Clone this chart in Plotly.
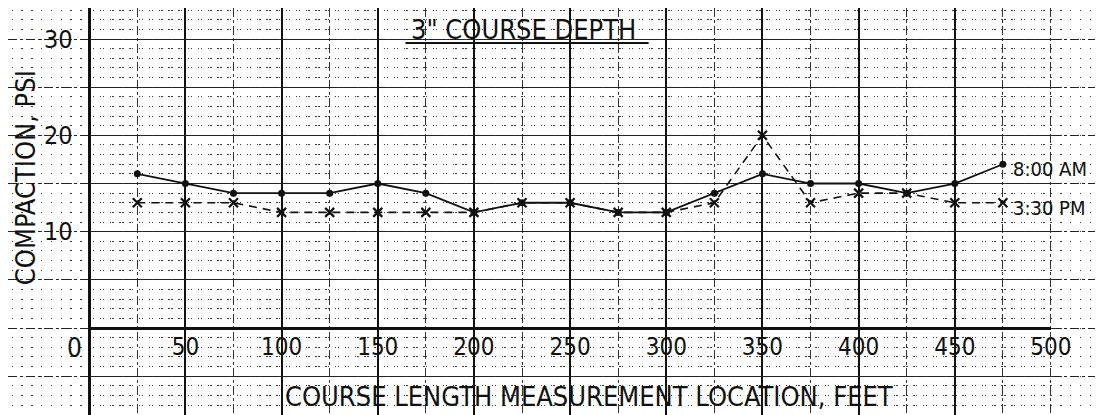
import plotly.graph_objects as go

# ---- data ----
locations = [25, 50, 75, 100, 125, 150, 175, 200, 225, 250, 275, 300, 325, 350, 375, 400, 425, 450, 475]
am_800 = [16, 15, 14, 14, 14, 15, 14, 12, 13, 13, 12, 12, 14, 16, 15, 15, 14, 15, 17]
pm_330 = [13, 13, 13, 12, 12, 12, 12, 12, 13, 13, 12, 12, 13, 20, 13, 14, 14, 13, 13]

x_tick_vals = [50, 100, 150, 200, 250, 300, 350, 400, 450, 500]
x_tick_text = ["50", "100", "150", "200", "250", "300", "350", "400", "450", "500"]
y_grid_vals = [-5, 0, 5, 10, 15, 20, 25, 30]
y_tick_text = ["", "", "", "10", "", "20", "", "30"]
x_grid_vals = [-25, 0, 25, 50, 75, 100, 125, 150, 175, 200, 225, 250, 275, 300,
               325, 350, 375, 400, 425, 450, 475, 500, 525]

title_text = '3" COURSE DEPTH'
x_title = "COURSE LENGTH MEASUREMENT LOCATION, FEET"
y_title = "COMPACTION, PSI"
series_names = ["8:00 AM", "3:30 PM"]

# ---- layout geometry ----
# the page keeps an 8px body margin and the photo is squeezed horizontally
OFF = 8
SX = 1103 / 1125
W, H = 1125 - OFF, 415 - OFF
PX_X = 1.922 / SX   # px per foot (in figure pixels)
PX_Y = 9.633        # px per psi
X0_PX, Y0_PX = 89 / SX - OFF, 328 - OFF
X_RANGE = [-X0_PX / PX_X, (W - X0_PX) / PX_X]
Y_RANGE = [-(H - Y0_PX) / PX_Y, Y0_PX / PX_Y]
FONT = "DejaVu Sans Condensed, Liberation Sans Narrow, DejaVu Sans, sans-serif"
INK = "#111111"
# dotted rows: one dot every 5 ft, aligned with the 5 ft columns
step_x = 5 * PX_X
phase = X0_PX % step_x
ROW_DOTS = f"0px,{phase - 0.7:.2f}px,1.4px,{step_x - phase - 0.7:.2f}px"


def px(x):
    return (x / SX - OFF) / W


def py(y):
    return 1 - (y - OFF) / H


ax_x0 = (0 - X_RANGE[0]) / (X_RANGE[1] - X_RANGE[0])
ax_x500 = (500 - X_RANGE[0]) / (X_RANGE[1] - X_RANGE[0])
ax_y0 = (0 - Y_RANGE[0]) / (Y_RANGE[1] - Y_RANGE[0])

fig = go.Figure()
# empty trace to keep the background graph-paper subplot alive
fig.add_trace(go.Scatter(x=[None], y=[None], xaxis="x", yaxis="y", mode="lines",
                         hoverinfo="skip", showlegend=False))
fig.add_trace(go.Scatter(
    x=locations, y=am_800, name=series_names[0], xaxis="x3", yaxis="y",
    mode="lines+markers", line=dict(color=INK, width=1.8),
    marker=dict(symbol="circle", size=7, color=INK), hoverinfo="x+y"))
fig.add_trace(go.Scatter(
    x=locations, y=pm_330, name=series_names[1], xaxis="x3", yaxis="y",
    mode="lines+markers", line=dict(color=INK, width=1.6, dash="8px,6px"),
    marker=dict(symbol="x-thin", size=9, color=INK, line=dict(width=2.2, color=INK)),
    hoverinfo="x+y"))

fig.update_layout(
    width=W, height=H, margin=dict(l=0, r=0, t=0, b=0), autosize=False,
    paper_bgcolor="white", plot_bgcolor="rgba(0,0,0,0)", showlegend=False,
    font=dict(family=FONT, color=INK),
    xaxis=dict(
        range=X_RANGE, anchor="y", domain=[0, 1], tickmode="array", tickvals=x_grid_vals,
        showticklabels=False, ticks="", showgrid=True, gridcolor="#333333", gridwidth=1.1,
        griddash="dashdot", zeroline=True, zerolinecolor=INK, zerolinewidth=3,
        showline=False,
    ),
    yaxis=dict(
        range=Y_RANGE, anchor="x", domain=[0, 1], tickmode="array", tickvals=y_grid_vals,
        ticktext=y_tick_text, ticklabelposition="inside", ticklabelstandoff=33,
        tickfont=dict(size=25, family=FONT, color=INK), ticks="",
        showgrid=True, gridcolor="#222222", gridwidth=1.2, griddash="dashdot",
        zeroline=False, showline=False,
        minor=dict(tickmode="linear", tick0=0, dtick=1, showgrid=True, gridcolor="#3a3a3a",
                   gridwidth=1.4, griddash=ROW_DOTS, ticks=""),
    ),
    xaxis3=dict(
        range=[0, 500], domain=[ax_x0, ax_x500], anchor="free", position=ax_y0,
        tickmode="array", tickvals=x_tick_vals, ticktext=x_tick_text,
        tickfont=dict(size=24, family=FONT, color=INK), ticks="", ticklabelstandoff=-4,
        showline=True, linecolor=INK, linewidth=3, showgrid=True, gridcolor="#111111",
        gridwidth=1.6, zeroline=False,
    ),
)

ann = [
    dict(text=title_text, x=px(523), y=py(29), xref="paper", yref="paper",
         xanchor="center", yanchor="middle", showarrow=False,
         font=dict(size=27, family=FONT, color=INK)),
    dict(text=x_title, x=px(588), y=py(396), xref="paper", yref="paper",
         xanchor="center", yanchor="middle", showarrow=False,
         font=dict(size=27, family=FONT, color=INK)),
    dict(text=y_title, x=px(25), y=py(178), xref="paper", yref="paper",
         xanchor="center", yanchor="middle", textangle=-90, showarrow=False,
         font=dict(size=27, family=FONT, color=INK)),
    dict(text="0", x=px(74), y=py(348), xref="paper", yref="paper",
         xanchor="center", yanchor="middle", showarrow=False,
         font=dict(size=26, family=FONT, color=INK)),
    dict(text=series_names[0], x=locations[-1], y=am_800[-1], xref="x3", yref="y",
         xanchor="left", yanchor="middle", xshift=8, yshift=-5, showarrow=False,
         font=dict(size=20, family=FONT, color=INK)),
    dict(text=series_names[1], x=locations[-1], y=pm_330[-1], xref="x3", yref="y",
         xanchor="left", yanchor="middle", xshift=8, yshift=-5, showarrow=False,
         font=dict(size=20, family=FONT, color=INK)),
]
fig.update_layout(annotations=ann)

# title underline
fig.add_shape(type="line", xref="paper", yref="paper",
              x0=px(405), x1=px(648), y0=py(43), y1=py(43),
              line=dict(color=INK, width=2))

fig.write_html("out.html")
